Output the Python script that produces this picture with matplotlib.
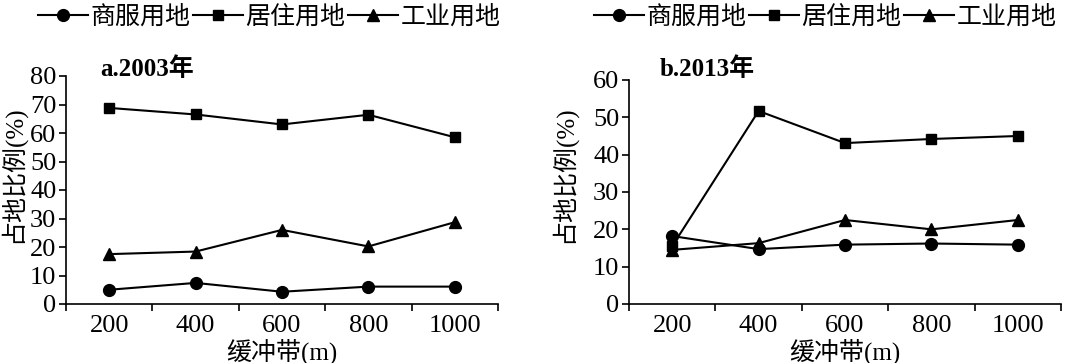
import numpy as np
import matplotlib
matplotlib.use("Agg")
from matplotlib import pyplot as plt
from matplotlib.ticker import FixedLocator

plt.rcParams['font.family'] = ['Liberation Serif', 'Noto Sans CJK SC']

buffers = ["200", "400", "600", "800", "1000"]
series_names = ["商服用地", "居住用地", "工业用地"]

# 2003
commerce_2003 = [5.0, 7.4, 4.3, 6.1, 6.1]
residence_2003 = [68.8, 66.5, 63.0, 66.4, 58.5]
industry_2003 = [17.5, 18.4, 26.0, 20.2, 28.7]

# 2013
commerce_2013 = [18.2, 14.7, 15.9, 16.2, 15.9]
residence_2013 = [15.5, 51.7, 43.1, 44.2, 45.0]
industry_2013 = [14.5, 16.3, 22.5, 20.0, 22.5]

W, H = 1080, 363
fig = plt.figure(figsize=(W / 100, H / 100), dpi=100)

ax1 = fig.add_axes([66 / W, (H - 304) / H, 432 / W, 228 / H])
ax2 = fig.add_axes([629 / W, (H - 304) / H, 432 / W, 224 / H])

markers = ["o", "s", "^"]
msizes = [8.5, 7.5, 8.5]


def draw(ax, data, ymax, title, title_x, legend_x, ylabel_x):
    x = np.arange(len(buffers))
    for vals, name, m, ms in zip(data, series_names, markers, msizes):
        ax.plot(x, vals, color="black", lw=1.5, marker=m, markersize=ms,
                label=name, clip_on=False)
    ax.set_xlim(-0.5, len(buffers) - 0.5)
    ax.set_ylim(0, ymax)
    ax.set_yticks(np.arange(0, ymax + 1, 10))
    ax.set_xticks(x)
    ax.set_xticklabels(buffers)
    ax.xaxis.set_minor_locator(FixedLocator(np.arange(-0.5, len(buffers), 1.0)))
    ax.tick_params(axis="x", which="major", length=0, labelsize=19, pad=8)
    ax.tick_params(axis="x", which="minor", length=5, width=1.2, direction="out")
    ax.tick_params(axis="y", length=5, width=1.2, direction="out", labelsize=19, pad=2)
    for s in ["top", "right"]:
        ax.spines[s].set_visible(False)
    for s in ["left", "bottom"]:
        ax.spines[s].set_linewidth(1.2)
    ax.set_xlabel("缓冲带(m)", fontsize=18, labelpad=1)
    ax.set_ylabel("占地比例(%)", fontsize=18)
    ax.yaxis.set_label_coords(ylabel_x, 0.52, transform=fig.transFigure)
    fig.text(title_x, 0.79, title, fontsize=18, fontweight="bold")
    ax.legend(loc="upper left", bbox_to_anchor=(legend_x, 0.985),
              bbox_transform=fig.transFigure, ncol=3, frameon=False,
              fontsize=18, handlelength=2.0, handletextpad=0.1,
              columnspacing=0.1, borderaxespad=0, borderpad=0)


draw(ax1, [commerce_2003, residence_2003, industry_2003], 80,
     "a.2003年", 100 / W, 38 / W, 25 / W)
draw(ax2, [commerce_2013, residence_2013, industry_2013], 60,
     "b.2013年", 660 / W, 594 / W, 576 / W)

fig.savefig("out.png", dpi=100, facecolor="white")
